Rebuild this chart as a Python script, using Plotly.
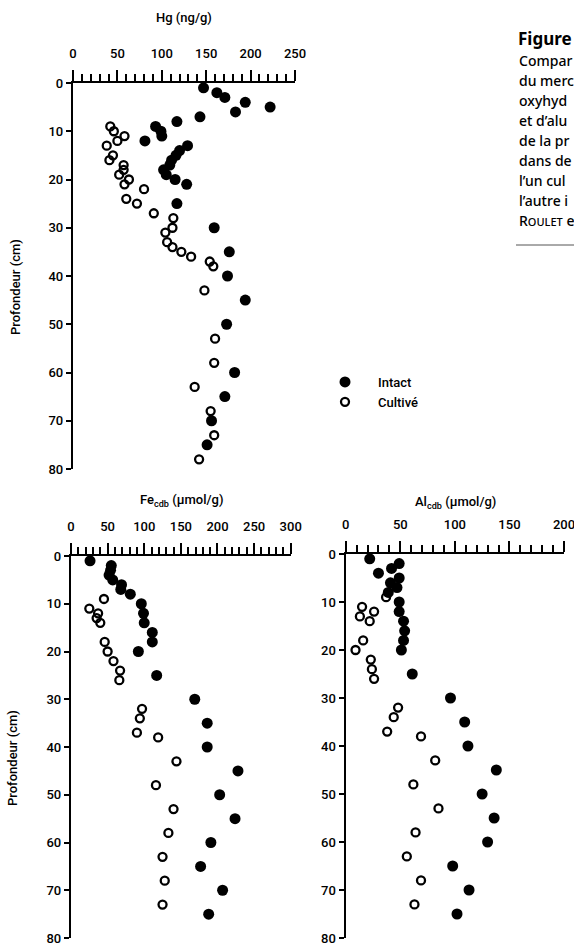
import plotly.graph_objects as go

W, H = 574, 945

# ---- data ----
hg_int_depth = [1, 2, 3, 4, 5, 6, 7, 8, 9, 10, 11, 12, 13, 14, 15, 16, 17, 18, 19, 20, 21, 25, 30, 35, 40, 45, 50, 60, 65, 70, 75]
hg_int_val = [147, 162, 171, 194, 222, 183, 143, 117, 93, 99, 100, 81, 129, 120, 116, 111, 109, 102, 105, 115, 128, 117, 159, 176, 174, 194, 173, 182, 171, 156, 151]
hg_cul_depth = [9, 10, 11, 12, 13, 15, 16, 17, 18, 19, 20, 21, 22, 24, 25, 27, 28, 30, 31, 33, 34, 35, 36, 37, 38, 43, 53, 58, 63, 68, 73, 78]
hg_cul_val = [42, 46, 58, 50, 38, 45, 41, 57, 57, 52, 63, 58, 80, 60, 72, 91, 113, 112, 104, 106, 112, 122, 133, 154, 158, 148, 160, 159, 137, 155, 159, 142]

fe_int_depth = [1, 2, 3, 4, 5, 6, 7, 8, 10, 12, 14, 16, 18, 20, 25, 30, 35, 40, 45, 50, 55, 60, 65, 70, 75]
fe_int_val = [26, 55, 54, 52, 57, 69, 68, 81, 96, 99, 100, 111, 111, 92, 117, 169, 186, 186, 228, 203, 224, 191, 177, 207, 188]
fe_cul_depth = [9, 11, 12, 13, 14, 18, 20, 22, 24, 26, 32, 34, 37, 38, 43, 48, 53, 58, 63, 68, 73]
fe_cul_val = [45, 25, 37, 35, 40, 46, 50, 58, 67, 66, 97, 94, 90, 119, 144, 116, 140, 133, 125, 128, 125]

al_int_depth = [1, 2, 3, 4, 5, 6, 7, 8, 10, 12, 14, 16, 18, 20, 25, 30, 35, 40, 45, 50, 55, 60, 65, 70, 75]
al_int_val = [22, 49, 42, 30, 49, 41, 47, 39, 49, 49, 53, 54, 53, 51, 61, 96, 109, 112, 138, 125, 136, 130, 98, 113, 102]
al_cul_depth = [9, 11, 12, 13, 14, 18, 20, 22, 24, 26, 32, 34, 37, 38, 43, 48, 53, 58, 63, 68, 73]
al_cul_val = [37, 15, 26, 13, 22, 16, 9, 23, 24, 26, 48, 44, 38, 69, 82, 62, 85, 64, 56, 69, 63]

series_names = ["Intact", "Cultivé"]
caption_title = "Figure"
caption_lines = ["Compar", "du merc", "oxyhyd", "et d\u2019alu", "de la pr", "dans de",
                 "l\u2019un cul", "l\u2019autre i", "R<span style='font-size:11px'>OULET</span> e"]

TICKFONT = "Roboto, Liberation Sans, sans-serif"
CAPFONT = "Noto Sans, Open Sans, sans-serif"


def px_x(p):
    return p / W


def px_y(p):
    return 1 - p / H


fig = go.Figure()

panels = [
    (hg_int_val, hg_int_depth, hg_cul_val, hg_cul_depth, "x", "y", True),
    (fe_int_val, fe_int_depth, fe_cul_val, fe_cul_depth, "x2", "y2", False),
    (al_int_val, al_int_depth, al_cul_val, al_cul_depth, "x3", "y3", False),
]
for iv, idp, cv, cdp, xa, ya, show in panels:
    fig.add_trace(go.Scatter(
        x=iv, y=idp, xaxis=xa, yaxis=ya, mode="markers", name=series_names[0],
        legendgroup="i", showlegend=show, cliponaxis=False,
        marker=dict(symbol="circle", size=11, color="black", line=dict(width=0))))
    fig.add_trace(go.Scatter(
        x=cv, y=cdp, xaxis=xa, yaxis=ya, mode="markers", name=series_names[1],
        legendgroup="c", showlegend=show, cliponaxis=False,
        marker=dict(symbol="circle-open", size=8, color="black", line=dict(width=2.3, color="black"))))


def xaxis_cfg(dom, rng, anchor):
    return dict(
        domain=[px_x(dom[0]), px_x(dom[1])], range=rng, side="top", anchor=anchor,
        automargin=False, ticklabeloverflow="allow",
        showline=True, linecolor="black", linewidth=2, showgrid=False, zeroline=False,
        ticks="outside", ticklen=11, tickwidth=1.8, tickcolor="black", dtick=50, tick0=0,
        ticklabelstandoff=7,
        minor=dict(dtick=10, ticks="outside", ticklen=7, tickwidth=1.6, tickcolor="black", showgrid=False),
        tickfont=dict(family=TICKFONT, size=13, color="black", weight=500), fixedrange=True)


def yaxis_cfg(dom, anchor):
    return dict(
        domain=[px_y(dom[1]), px_y(dom[0])], range=[80, 0], anchor=anchor,
        automargin=False, ticklabeloverflow="allow",
        showline=True, linecolor="black", linewidth=2.4, showgrid=False, zeroline=False,
        ticks="outside", ticklen=5, tickwidth=1.8, tickcolor="black", dtick=10, tick0=0,
        tickfont=dict(family=TICKFONT, size=13, color="black", weight=500), fixedrange=True)


fig.update_layout(
    width=W, height=H, margin=dict(l=0, r=0, t=0, b=0, autoexpand=False),
    paper_bgcolor="white", plot_bgcolor="white",
    xaxis=xaxis_cfg((73, 295), [0, 250], "y"),
    yaxis=yaxis_cfg((83, 469), "x"),
    xaxis2=xaxis_cfg((71, 290.7), [0, 300], "y2"),
    yaxis2=yaxis_cfg((556, 938), "x2"),
    xaxis3=xaxis_cfg((345.7, 564), [0, 200], "y3"),
    yaxis3=yaxis_cfg((554, 938), "x3"),
    showlegend=True,
    legend=dict(x=px_x(312), y=px_y(367), xanchor="left", yanchor="top",
                font=dict(family=TICKFONT, size=13, color="black", weight=500),
                bgcolor="rgba(0,0,0,0)", itemwidth=56, tracegroupgap=0),
)

tf = dict(family=TICKFONT, size=13, color="black", weight=500)
ann = []


def add_text(text, x, y, xa="center", font=tf, angle=0):
    ann.append(dict(text=text, x=px_x(x), y=px_y(y), xref="paper", yref="paper",
                    xanchor=xa, yanchor="middle", textangle=angle, showarrow=False, font=font))


add_text("Hg (ng/g)", 184, 17)
add_text("Fe<sub>cdb</sub> (µmol/g)", 181, 500)
add_text("Al<sub>cdb</sub> (µmol/g)", 455, 502)
add_text("Profondeur (cm)", 15, 287, angle=-90)
add_text("Profondeur (cm)", 12, 758, angle=-90)
add_text("<b>" + caption_title + "</b>", 516, 38, xa="left",
         font=dict(family=CAPFONT, size=17, color="black"))
for i, line in enumerate(caption_lines):
    add_text(line, 517, 60 + 20 * i, xa="left",
             font=dict(family=CAPFONT, size=14, color="black", weight=500))
fig.update_layout(annotations=ann)

fig.add_shape(type="line", xref="paper", yref="paper", x0=px_x(516), x1=1.0,
              y0=px_y(245), y1=px_y(245), line=dict(color="#555", width=1))

fig.write_html("out.html")
